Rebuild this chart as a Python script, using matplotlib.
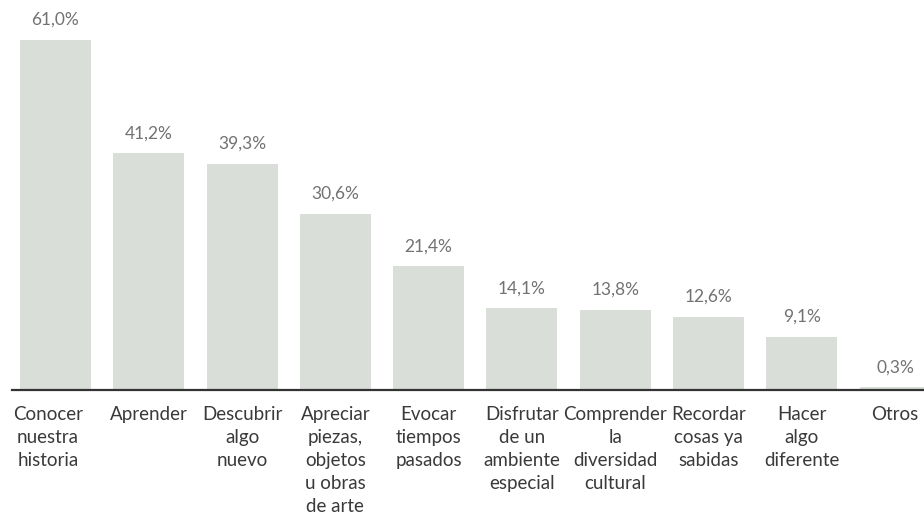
import matplotlib
matplotlib.use("Agg")
import matplotlib.pyplot as plt

categories = ["Conocer\nnuestra\nhistoria", "Aprender", "Descubrir\nalgo\nnuevo",
              "Apreciar\npiezas,\nobjetos\nu obras\nde arte", "Evocar\ntiempos\npasados",
              "Disfrutar\nde un\nambiente\nespecial", "Comprender\nla\ndiversidad\ncultural",
              "Recordar\ncosas ya\nsabidas", "Hacer\nalgo\ndiferente", "Otros"]
values = [61.0, 41.2, 39.3, 30.6, 21.4, 14.1, 13.8, 12.6, 9.1, 0.3]
value_labels = ["61,0%", "41,2%", "39,3%", "30,6%", "21,4%", "14,1%", "13,8%", "12,6%", "9,1%", "0,3%"]

plt.rcParams['font.family'] = ['Lato', 'DejaVu Sans']

fig = plt.figure(figsize=(9.24, 5.21), dpi=100)
ax = fig.add_axes([12/924, (521-390)/521, 1 - 12/924, 390/521])

x = list(range(len(values)))
ax.bar(x, values, width=0.76, color="#D9DFD8", bottom=0.25)
ax.set_xlim(-0.466, 9.31)
ax.set_ylim(0, 68.2)

for xi, v, lab in zip(x, values, value_labels):
    ax.text(xi, v + 2.3, lab, ha="center", va="bottom", fontsize=12.5,
            color="#727272")

for xi, lab in zip(x, categories):
    off = -0.08 if xi == 0 else 0
    ax.text(xi + off, -2.8, lab, ha="center", va="top", fontsize=13.5, color="#3a3a3a",
            linespacing=1.42)

for s in ["top", "right", "left"]:
    ax.spines[s].set_visible(False)
ax.spines["bottom"].set_color("#333333")
ax.spines["bottom"].set_linewidth(1.6)
ax.set_xticks([])
ax.set_yticks([])

fig.savefig("out.png", dpi=100)
